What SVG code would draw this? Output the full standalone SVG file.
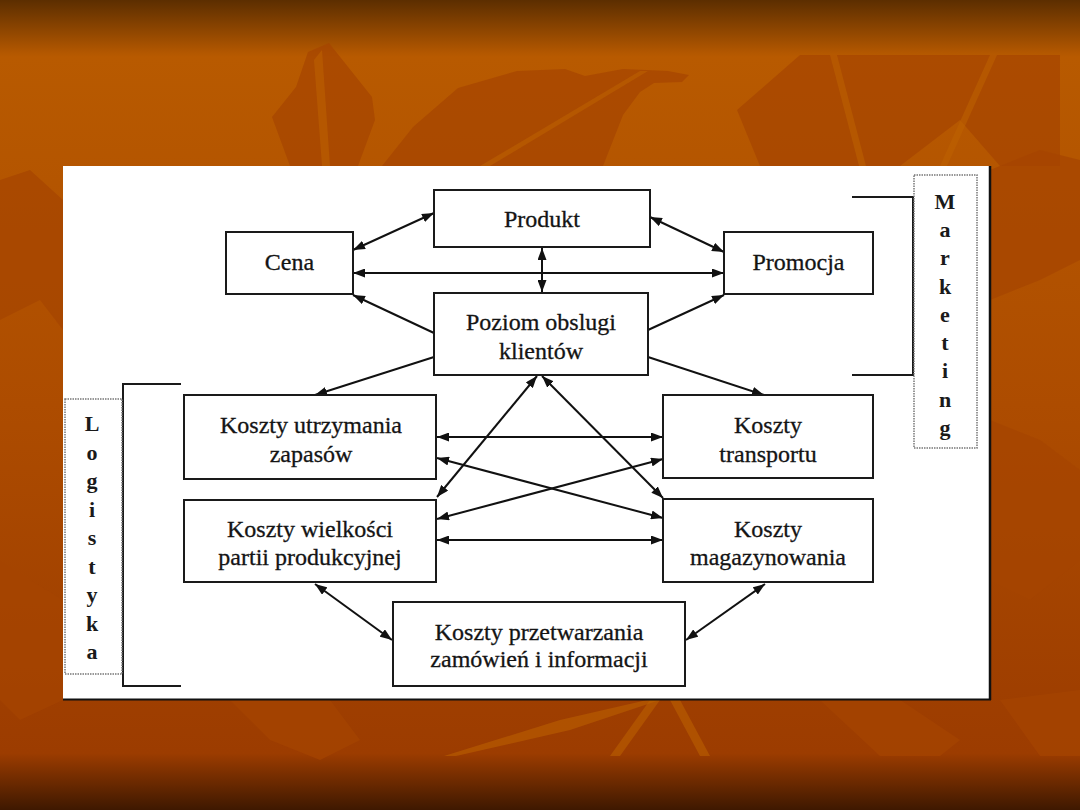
<svg xmlns="http://www.w3.org/2000/svg" width="1080" height="810" viewBox="0 0 1080 810">
<defs>
<linearGradient id="bg" x1="0" y1="0" x2="0" y2="810" gradientUnits="userSpaceOnUse">
<stop offset="0" stop-color="#5c2e00"/>
<stop offset="0.063" stop-color="#b05600"/>
<stop offset="0.07" stop-color="#b85a00"/>
<stop offset="0.5" stop-color="#ad4c00"/>
<stop offset="0.93" stop-color="#9c3c00"/>
<stop offset="1" stop-color="#3e1800"/>
</linearGradient>
<marker id="ah" viewBox="0 0 12 9" refX="12" refY="4.5" markerWidth="12" markerHeight="9" markerUnits="userSpaceOnUse" orient="auto-start-reverse">
<path d="M0,0 L12,4.5 L0,9 z" fill="#111"/>
</marker>
<style>
.box{fill:#fff;stroke:#1a1a1a;stroke-width:2}
.t{font-family:"Liberation Serif","Times New Roman",serif;font-size:24px;fill:#141414;stroke:#141414;stroke-width:0.3;text-anchor:middle}
.v{font-family:"Liberation Serif","Times New Roman",serif;font-size:22px;font-weight:bold;fill:#1a1a1a;text-anchor:middle}
.c line{stroke:#111;stroke-width:2;marker-start:url(#ah);marker-end:url(#ah)}
.c line.one{marker-start:none}
.br{fill:none;stroke:#1a1a1a;stroke-width:2}
.dot{fill:none;stroke:#777;stroke-width:1.5;stroke-dasharray:1.5 1}
.lf{fill:#a54500;opacity:0.7}
.lt{fill:#bd6200;opacity:0.55}
</style>
</defs>
<g id="background">
<rect x="0" y="0" width="1080" height="810" fill="url(#bg)"/>
<polygon class="lf" points="272,117 296,87 308,52 329,43 372,97 375,120 358,166 290,166"/>
<polygon class="lt" points="314,60 322,50 330,166 322,166"/>
<polygon class="lf" points="382,166 413,127 458,88 517,71 565,69 585,76 623,69 668,71 689,75 682,82 654,83 640,92 623,115 603,166"/>
<polygon class="lt" points="640,71 648,71 490,166 480,166"/>
<polygon class="lf" points="737,110 800,55 1060,55 1060,166 1000,166 960,120 900,166 760,166" opacity="0.35"/>
<polygon class="lt" points="830,55 837,55 866,166 859,166"/>
<polygon class="lt" points="990,55 997,55 947,166 940,166"/>
<polygon class="lf" points="0,180 30,170 63,200 63,330 40,300 0,320"/>
<polygon class="lf" points="990,170 1040,150 1080,160 1080,260 1040,280 990,300"/>
<polygon class="lf" points="990,420 1040,440 1080,470 1080,560 1030,600 990,580"/>
<polygon class="lf" points="0,560 30,580 63,600 63,700 20,720 0,700"/>
<polygon class="lf" points="230,700 330,700 360,740 320,760 270,740"/>
<polygon class="lt" points="444,756 560,720 647,700 660,700 570,730 456,756"/>
<polygon class="lt" points="610,756 650,700 660,700 620,756"/>
<polygon class="lt" points="670,700 680,700 710,756 700,756"/>
<polygon class="lf" points="820,700 900,700 960,740 940,756 880,756"/>
<polygon class="lf" points="1000,700 1080,690 1080,756 1040,756"/>
</g>
<g id="panel">
<rect x="63" y="166" width="927" height="533" fill="#fff"/>
<line x1="990" y1="166" x2="990" y2="700" stroke="#111" stroke-width="2.5"/>
<line x1="63" y1="699.5" x2="991" y2="699.5" stroke="#111" stroke-width="2"/>
</g>
<g id="connectors" class="c">
<line x1="434" y1="213" x2="353" y2="250"/>
<line x1="724" y1="273" x2="353" y2="273"/>
<line x1="542" y1="248" x2="542" y2="292"/>
<line class="one" x1="434" y1="333" x2="353" y2="295"/>
<line x1="650" y1="217" x2="724" y2="252"/>
<line class="one" x1="648" y1="330" x2="724" y2="295"/>
<line class="one" x1="434" y1="357" x2="315" y2="395"/>
<line class="one" x1="648" y1="357" x2="764" y2="395"/>
<line x1="537" y1="376" x2="437" y2="497"/>
<line x1="542" y1="376" x2="663" y2="498"/>
<line x1="437" y1="437" x2="663" y2="437"/>
<line x1="437" y1="458" x2="663" y2="518"/>
<line x1="437" y1="519" x2="663" y2="459"/>
<line x1="437" y1="540" x2="663" y2="540"/>
<line x1="315" y1="584" x2="392" y2="640"/>
<line x1="765" y1="584" x2="686" y2="640"/>
</g>
<g id="cena"><rect class="box" x="226" y="232" width="127" height="62"/><text class="t" x="289.5" y="270">Cena</text></g>
<g id="produkt"><rect class="box" x="434" y="190" width="216" height="57"/><text class="t" x="542" y="227">Produkt</text></g>
<g id="promocja"><rect class="box" x="724" y="232" width="149" height="62"/><text class="t" x="798.5" y="270">Promocja</text></g>
<g id="poziom"><rect class="box" x="434" y="293" width="214" height="82"/><text class="t" x="541" y="330">Poziom obslugi</text><text class="t" x="541" y="359">klientów</text></g>
<g id="zapasy"><rect class="box" x="184" y="395" width="252" height="84"/><text class="t" x="311" y="433">Koszty utrzymania</text><text class="t" x="311" y="462">zapasów</text></g>
<g id="partie"><rect class="box" x="184" y="500" width="252" height="82"/><text class="t" x="310" y="537">Koszty wielkości</text><text class="t" x="310" y="565">partii produkcyjnej</text></g>
<g id="transport"><rect class="box" x="663" y="395" width="210" height="83"/><text class="t" x="768" y="433">Koszty</text><text class="t" x="768" y="462">transportu</text></g>
<g id="magazyn"><rect class="box" x="663" y="499" width="210" height="83"/><text class="t" x="768" y="537">Koszty</text><text class="t" x="768" y="565">magazynowania</text></g>
<g id="przetwarzanie"><rect class="box" x="393" y="602" width="292" height="84"/><text class="t" x="539" y="640">Koszty przetwarzania</text><text class="t" x="539" y="667">zamówień i informacji</text></g>
<g id="marketing">
<polyline class="br" points="852,197 913,197 913,375 852,375"/>
<rect class="dot" x="914" y="175" width="63" height="273"/>
<text class="v" x="945" y="209">M</text>
<text class="v" x="945" y="237">a</text>
<text class="v" x="945" y="265">r</text>
<text class="v" x="945" y="294">k</text>
<text class="v" x="945" y="322">e</text>
<text class="v" x="945" y="350">t</text>
<text class="v" x="945" y="378">i</text>
<text class="v" x="945" y="407">n</text>
<text class="v" x="945" y="435">g</text>
</g>
<g id="logistyka">
<polyline class="br" points="181,384 123,384 123,686 181,686"/>
<rect class="dot" x="65" y="399" width="57" height="275"/>
<text class="v" x="92" y="431">L</text>
<text class="v" x="92" y="460">o</text>
<text class="v" x="92" y="488">g</text>
<text class="v" x="92" y="517">i</text>
<text class="v" x="92" y="545">s</text>
<text class="v" x="92" y="574">t</text>
<text class="v" x="92" y="602">y</text>
<text class="v" x="92" y="631">k</text>
<text class="v" x="92" y="659">a</text>
</g>
</svg>
